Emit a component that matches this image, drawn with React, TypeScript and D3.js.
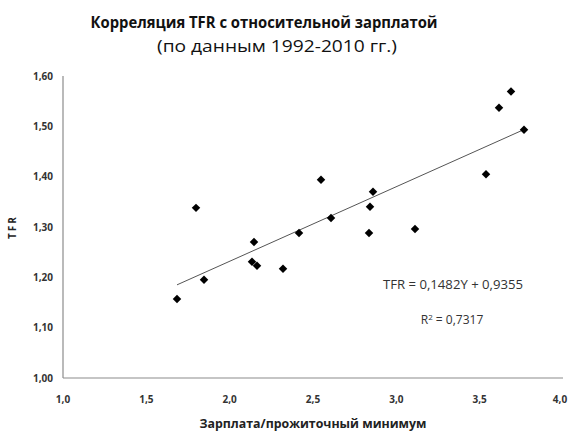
import React from "react";
import * as d3 from "d3";

const wageRatio = [1.684, 1.846, 1.798, 2.146, 2.134, 2.164, 2.32, 2.416, 2.548, 2.608, 2.86, 2.842, 2.836, 3.112, 3.538, 3.616, 3.688, 3.766];
const tfrValues = [1.157, 1.195, 1.338, 1.270, 1.231, 1.223, 1.217, 1.288, 1.394, 1.318, 1.370, 1.340, 1.288, 1.296, 1.405, 1.537, 1.569, 1.493];
const xTicks = [1.0, 1.5, 2.0, 2.5, 3.0, 3.5, 4.0];
const yTicks = [1.0, 1.1, 1.2, 1.3, 1.4, 1.5, 1.6];
const trendSlope = 0.1482;
const trendIntercept = 0.9355;
const titleText = "Корреляция TFR с относительной зарплатой";
const subtitleText = "(по данным 1992-2010 гг.)";
const xTitle = "Зарплата/прожиточный минимум";
const yTitle = "TFR";
const eqText = "TFR = 0,1482Y + 0,9355";
const r2Value = "0,7317";

export default function App() {
  const W = 572, H = 433;
  const x = d3.scaleLinear().domain([1, 4]).range([63, 563]);
  const y = d3.scaleLinear().domain([1, 1.6]).range([378, 76]);
  const fmtX = (v: number) => d3.format(".1f")(v).replace(".", ",");
  const fmtY = (v: number) => d3.format(".2f")(v).replace(".", ",");
  const sym = d3.symbol(d3.symbolSquare, 36)()!;
  const xMin = d3.min(wageRatio)!, xMax = d3.max(wageRatio)!;
  const line = d3.line<number>().x((d) => x(d)).y((d) => y(trendSlope * d + trendIntercept));
  const font = "'Open Sans', 'Noto Sans', sans-serif";
  return (
    <svg width={W} height={H} style={{ position: "absolute", left: 0, top: 0, background: "#fff" }} fontFamily={font}>
      <text x={264} y={28} textAnchor="middle" fontSize={16} fontWeight="bold" fill="#111" textLength={347} lengthAdjust="spacingAndGlyphs">{titleText}</text>
      <text x={277} y={52} textAnchor="middle" fontSize={15.5} fill="#111" textLength={240} lengthAdjust="spacingAndGlyphs">{subtitleText}</text>
      {/* axes */}
      <line x1={x(1)} x2={x(1)} y1={y(1.6)} y2={y(1)} stroke="#8c8c8c" strokeWidth={1.2} />
      <line x1={x(1)} x2={x(4)} y1={y(1)} y2={y(1)} stroke="#8c8c8c" strokeWidth={1.2} />
      {yTicks.map((t) => (
        <text key={"y" + t} x={53} y={y(t) + 3.5} textAnchor="end" fontSize={10} fontWeight="bold" fill="#333">{fmtY(t)}</text>
      ))}
      {xTicks.map((t) => (
        <text key={"x" + t} x={x(t) - (t === 4 ? 3 : 0)} y={403} textAnchor="middle" fontSize={10} fontWeight="bold" fill="#333">{fmtX(t)}</text>
      ))}
      <text transform={`translate(16,227) rotate(-90)`} textAnchor="middle" fontSize={10} fontWeight="bold" fill="#222" letterSpacing={2}>{yTitle}</text>
      <text x={313} y={428} textAnchor="middle" fontSize={13} fontWeight="bold" fill="#222" textLength={227} lengthAdjust="spacingAndGlyphs">{xTitle}</text>
      {/* trend line */}
      <path d={line([xMin, xMax]) || ""} fill="none" stroke="#555" strokeWidth={1} />
      {/* points */}
      {wageRatio.map((v, i) => (
        <path key={i} d={sym} transform={`translate(${x(v)},${y(tfrValues[i])}) rotate(45)`} fill="#000" />
      ))}
      <text x={453} y={289} textAnchor="middle" fontSize={12} fill="#333" textLength={140} lengthAdjust="spacingAndGlyphs">{eqText}</text>
      <text x={452} y={324} textAnchor="middle" fontSize={12} fill="#333">
        R<tspan dy={-4} fontSize={8}>2</tspan><tspan dy={4}> = {r2Value}</tspan>
      </text>
    </svg>
  );
}
